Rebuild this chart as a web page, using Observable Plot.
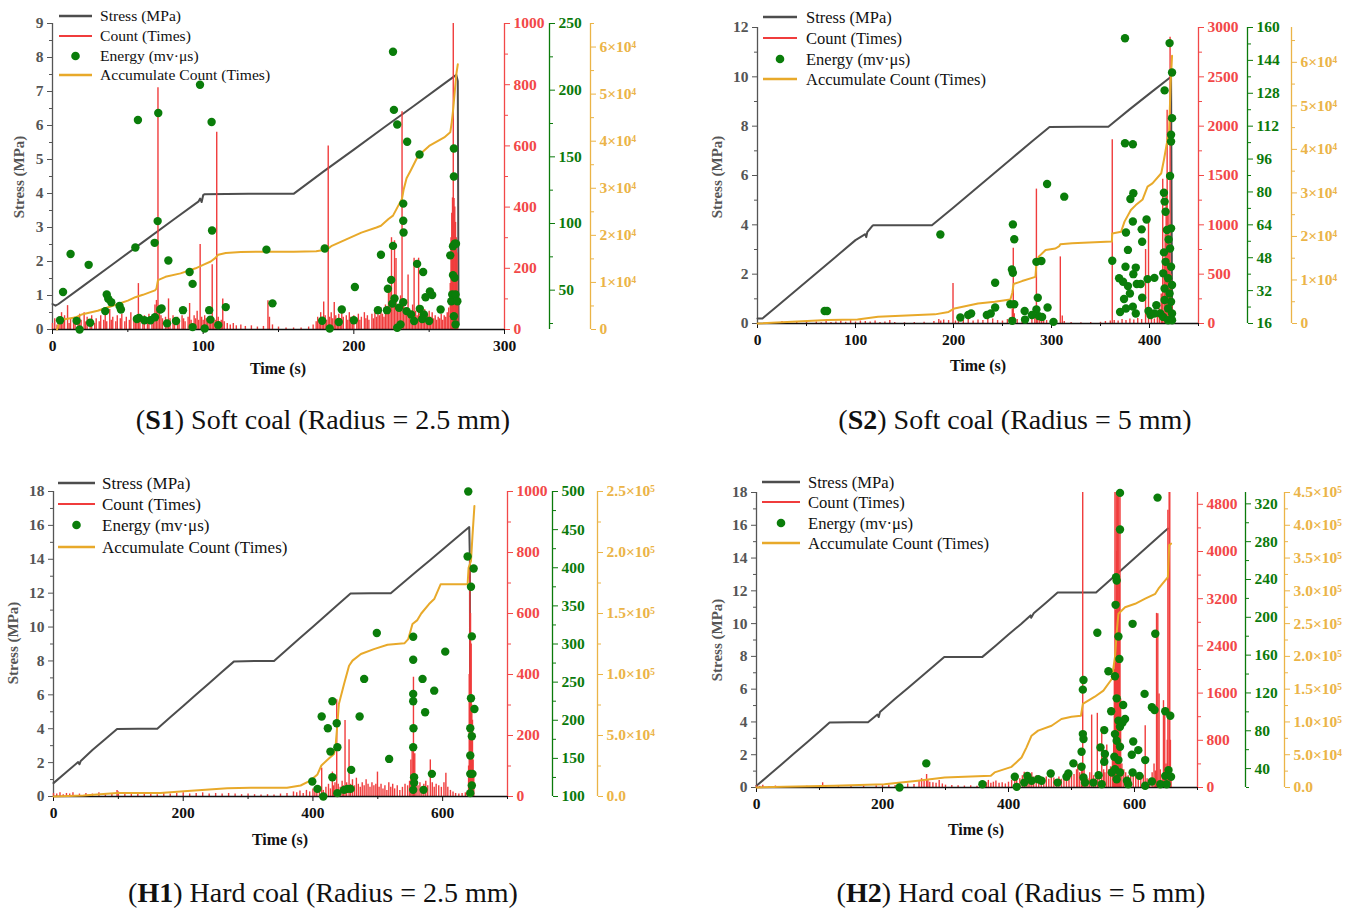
<!DOCTYPE html>
<html><head><meta charset="utf-8">
<script src="https://cdn.jsdelivr.net/npm/d3@7"></script>
<script src="https://cdn.jsdelivr.net/npm/@observablehq/plot@0.6"></script>
<style>
body{margin:0;background:#fff;width:1363px;height:909px;position:relative;overflow:hidden;font-family:"Liberation Serif",serif;}
.layer{position:absolute;}
</style></head><body>
<script>
// ---------------- DATA ----------------
const legendLabels = ["Stress (MPa)", "Count (Times)", "Energy (mv·μs)", "Accumulate Count (Times)"];
const captionBold = ["S1", "S2", "H1", "H2"];
const captionRest = [" Soft coal (Radius = 2.5 mm)", " Soft coal (Radius = 5 mm)", " Hard coal (Radius = 2.5 mm)", " Hard coal (Radius = 5 mm)"];

// S1
const s1Stress = [[0,0.75],[2,0.7],[4,0.75],[20,1.27],[40,1.92],[60,2.57],[80,3.22],[97,3.77],[98,3.85],[99,3.75],[100,3.95],[101,3.98],[130,3.99],[160,3.99],[180,4.65],[200,5.29],[220,5.94],[240,6.58],[260,7.23],[268,7.49],[269,7.3],[269.5,0.15]];
const s1Count = [[0,20],[1.5,35],[3,15],[4,40],[5,25],[6,55],[7,30],[8,45],[10,78],[11,20],[12,35],[14,25],[15,40],[17,20],[18,50],[19,30],[21,55],[22,25],[23,40],[25,30],[26,45],[28,20],[29,35],[31,25],[32,45],[34,30],[35,50],[36,25],[38,65],[39,30],[40,40],[42,25],[43,45],[45,35],[46,50],[48,25],[49,40],[51,30],[52,55],[54,35],[55,45],[56,30],[57,150],[58,40],[60,30],[61,45],[63,35],[64,50],[66,30],[67,40],[68,80],[69,95],[70,790],[71,60],[72,45],[73,35],[75,40],[76,30],[77,100],[78,35],[80,45],[81,25],[83,40],[84,30],[86,45],[87,35],[88,25],[90,40],[91,85],[92,30],[94,45],[95,35],[96,60],[97,30],[98,278],[99,40],[100,30],[101,45],[102,35],[103,25],[104,40],[105,30],[106,212],[107,35],[108,30],[109,645],[110,40],[111,25],[112,30],[113,100],[114,25],[116,20],[118,15],[120,20],[122,12],[125,15],[128,10],[132,12],[136,8],[140,10],[143,94],[144,40],[146,15],[150,8],[155,5],[160,5],[165,5],[170,8],[173,15],[175,25],[176,40],[177,30],[178,55],[179,35],[180,90],[181,45],[182,30],[183,600],[184,40],[185,55],[186,35],[187,88],[188,45],[189,30],[190,50],[191,35],[192,60],[193,40],[195,45],[196,30],[197,55],[198,40],[199,30],[200,45],[202,35],[203,50],[204,30],[205,40],[207,55],[208,35],[209,45],[210,30],[212,50],[213,35],[214,60],[215,40],[216,55],[217,45],[218,70],[219,50],[220,40],[221,80],[222,60],[223,120],[224,122],[225,300],[226,90],[227,290],[228,232],[229,70],[230,60],[231,110],[232,712],[233,90],[234,70],[235,55],[236,178],[237,60],[238,50],[239,80],[240,233],[241,60],[242,45],[243,233],[244,70],[245,55],[246,40],[247,65],[248,50],[249,45],[250,60],[251,40],[252,55],[253,35],[254,45],[255,30],[256,40],[257,35],[258,50],[259,30],[260,45],[261,40],[262,55],[263,70],[264,150],[264.5,300],[265,380],[265.5,430],[266,1000],[266.5,428],[267,400],[267.5,350],[268,300],[268.5,250],[269,120]];
const s1Energy = [[7,48.6],[12,77.1],[24,69],[5,27.4],[16,27],[25,25.6],[18,20.5],[35,34.3],[36,46.8],[37,43.5],[39,40.9],[44.5,38.1],[45.4,35.5],[55,82],[56.7,177.6],[56,28.4],[57.4,29.2],[61,27.4],[65,27.4],[67.8,85.5],[69.8,101.8],[70.2,182.9],[68,29.7],[71.5,35.5],[72.4,36.3],[76.9,72.3],[76,25.1],[82,26.9],[86.6,35],[91,63.6],[93,54.7],[93,22.3],[97.9,204.1],[101,21.3],[104,35],[104.8,27.9],[105.6,176.1],[105.9,94.7],[110,23.8],[115,37.3],[142,80.4],[146,40.1],[180.7,81.2],[179,27.1],[184,21.3],[190,26.1],[192,35.5],[200.7,52.4],[200,27.4],[216,35],[218,76.6],[222.6,51.1],[224.8,57.7],[226,83.2],[226,228.8],[226.6,185.2],[227,43.7],[228.8,174.3],[222,35],[225.5,39.9],[230,36.8],[232.8,114.9],[232.8,102.1],[233,93.2],[232.8,40.9],[235.4,161.3],[235,34.3],[238,31.7],[242,69.7],[243.6,151.8],[243.8,36],[246,63.6],[246.5,31.7],[247.6,44.7],[250.5,49.1],[252,46.3],[245.4,28.4],[250,26.9],[257.6,35.5],[264,76.1],[265.8,83],[266.4,156.2],[266.4,135.3],[266.9,84.8],[267.8,84.8],[265.8,61.3],[266.9,59.3],[264.7,41.7],[265.3,46.8],[267.5,46.8],[268.7,41.7],[266.4,30.4],[267.5,24.3],[228.8,21.8],[231,24.3],[240,26.9]];
const s1Acc = [[3,0],[5,1806],[8,2167],[15,2528],[20,3250],[30,3972],[40,5056],[50,6139],[55,6861],[60,7367],[68,8306],[69,8667],[70,10472],[75,11194],[85,11917],[95,13000],[100,13722],[105,14444],[108,15167],[110,15889],[115,16250],[125,16467],[140,16539],[160,16539],[175,16611],[182,16972],[185,17694],[195,19139],[205,20583],[215,21667],[218,22028],[223,23472],[226,24194],[229,26000],[232,27806],[233,29611],[235,32139],[238,33944],[242,36472],[245,37556],[250,39000],[260,40806],[264,41889],[265,44056],[266,46944],[267,50556],[268,54167],[269,56333]];

// S2
const s2Stress = [[0,0.2],[5,0.2],[20,0.7],[40,1.37],[60,2.04],[80,2.71],[100,3.38],[110,3.62],[111,3.5],[112,3.7],[117,3.95],[118,3.98],[150,3.98],[178,3.98],[200,4.7],[220,5.37],[240,6.04],[260,6.71],[280,7.38],[298,7.97],[330,7.98],[358,7.98],[380,8.69],[400,9.32],[422,10.0],[423,0.2]];
const s2Count = [[20,10],[25,20],[30,8],[40,12],[50,10],[60,15],[65,8],[70,20],[75,10],[80,15],[85,25],[90,12],[95,30],[100,15],[105,25],[110,20],[115,15],[120,25],[125,10],[130,15],[135,30],[140,10],[150,8],[160,10],[170,12],[180,20],[185,40],[187,25],[190,35],[195,30],[199.5,405],[202,25],[205,35],[210,30],[215,40],[220,25],[225,35],[230,30],[235,40],[240,45],[245,30],[250,25],[255,40],[258,60],[260,150],[261,762],[262,100],[265,40],[270,30],[275,25],[280,50],[283,100],[284.6,1362],[286,80],[288,45],[290,35],[292,25],[295,30],[300,20],[305,30],[309,675],[311,75],[313,20],[320,10],[330,8],[340,10],[350,12],[355,20],[360,25],[362,1862],[364,30],[368,25],[372,40],[376,30],[380,45],[384,35],[388,50],[392,40],[396,750],[399,1025],[402,60],[405,45],[408,80],[410,150],[412,300],[413.5,1462],[415,600],[416,900],[417,1300],[418,2162],[419,1100],[420,800],[421,2900],[422,500],[423,200]];
const s2Energy = [[68.5,22.1],[71,22.1],[186.6,59.3],[207,18.9],[215,20.1],[218,20.9],[234,20.1],[238,20.9],[242.5,35.8],[242.5,23.8],[258,25.4],[259.6,42.3],[260.6,40.7],[260.6,64.2],[262,57],[262,25.4],[260,17.3],[272.6,22.1],[273,17.9],[284.6,46],[286,28.5],[289.7,46.4],[284.6,22.8],[287,19.6],[290.4,19.2],[280,20.1],[295.5,83.9],[296,23.8],[302,16.8],[313,77.7],[362,46.5],[375,154.8],[375,103.7],[383,103.2],[376,60.3],[380.5,76.6],[383.5,79.4],[383,65.6],[397,66.6],[392,61.8],[392.5,55.8],[378,51.8],[375.5,43.6],[383.5,40],[386,43.2],[369,38],[373,36.3],[378,34.2],[387,35.2],[391,35.2],[392.5,28.5],[398,37.6],[405,38.2],[374,27.9],[380,30.6],[370,21.6],[376,23.3],[383,24.2],[386,20.9],[399,22.1],[407,24.9],[401,20.1],[411,20.9],[415.4,129.4],[420.5,152.4],[423,138.1],[423,115.9],[422,107.8],[422,104.5],[421,87.8],[414.7,79.6],[415.4,75.3],[416.4,70.4],[414.7,50.6],[417.8,61.5],[422,62.3],[419.5,56.9],[421,52.5],[416.4,46],[422,43.6],[414,40.4],[419,38],[423,34.7],[415.4,33],[420.5,30.6],[422,26.6],[415.4,27.4],[419,23.3],[423,20.9],[414,19.2],[419,17.6],[405,20.9],[423,17.6]];
const s2Acc = [[0,0],[71,793],[102,907],[123,1530],[181,2097],[195,2663],[201,3457],[225,4590],[242,4987],[258,5497],[260,7027],[261.3,9067],[270,9747],[283.6,10710],[284.6,13827],[287,15357],[294,16887],[304,17227],[308,17793],[309,18190],[321,18417],[361.6,18814],[362,20684],[371,21081],[374.5,23404],[381,26068],[386,27202],[393,28504],[398,31451],[403,32188],[412,34511],[414.7,37571],[418,41764],[420,44088],[421.6,55195],[423,61486]];

// H1
const h1Stress = [[0,0.79],[20,1.44],[38,2.03],[40,1.9],[42,2.1],[60,2.75],[80,3.4],[98,3.99],[130,4.0],[160,4.0],[180,4.67],[200,5.34],[220,6.02],[240,6.69],[260,7.36],[278,7.96],[310,8.0],[340,8.0],[360,8.67],[380,9.35],[400,10.02],[420,10.7],[440,11.37],[458,11.98],[490,12.0],[520,12.0],[540,12.64],[560,13.29],[580,13.93],[600,14.58],[620,15.22],[641,15.9],[642,14.0],[642.5,0.2]];
const h1Count = [[0,10],[5,8],[10,12],[15,6],[20,10],[25,8],[30,12],[40,8],[50,10],[60,8],[70,12],[80,6],[90,10],[98,20],[100,15],[110,8],[120,10],[130,8],[140,10],[150,8],[160,6],[170,10],[180,8],[190,10],[200,12],[210,8],[220,10],[230,12],[240,8],[250,10],[260,8],[270,10],[280,8],[290,6],[300,8],[310,6],[320,5],[330,6],[340,5],[350,8],[360,10],[370,15],[375,12],[380,18],[385,10],[390,20],[395,15],[400,25],[403,20],[406,30],[410,25],[413.5,93],[416,20],[420,30],[424,40],[427,25],[430,80],[432,35],[434,45],[436.7,317],[439,40],[442,30],[445,50],[447,35],[449.5,249],[452,45],[455.7,186],[458,40],[461,55],[464,35],[467,60],[470,40],[473,30],[476,45],[479,35],[482,55],[485,40],[488,30],[491,45],[494,35],[497,40],[499.5,80],[502,30],[505,40],[508,25],[511,35],[514,20],[517,45],[520,30],[523,40],[526,25],[530,35],[534,20],[538,30],[542,40],[546,35],[549,50],[551,120],[553,160],[555,391],[557,140],[559,60],[562,35],[565,45],[568,30],[571,40],[574,50],[577,35],[581,120],[584,45],[587,30],[590,40],[594,35],[598,30],[602,45],[605,76],[608,30],[612,20],[616,15],[620,10],[625,8],[630,10],[635,12],[638,15],[640,100],[641,400],[642,795],[643,600],[644,500],[645,300],[646,250],[647,120],[648,80]];
const h1Energy = [[399,119.6],[407,110],[413.5,204.9],[416,100],[423,189.6],[427,158.9],[430,224.9],[430,125.3],[436.7,196],[437.7,164.7],[437.7,104.4],[448,108.7],[453,110],[458,110],[459,134.9],[472,204.9],[479,254.2],[498.5,314.4],[517.5,149.3],[554.6,309.6],[554.6,279.4],[554.6,234.4],[554.6,224.9],[555,189.6],[554.6,164.7],[556,125.3],[556,117.9],[554.6,108.7],[569,254.2],[573,210.5],[570.5,108.7],[587,238.8],[583.4,129.7],[604,290],[639.5,500],[638.5,414.8],[643.7,375],[647.8,399],[645,310],[643.7,228.9],[649,214.8],[642.6,189.6],[645,179],[642.6,153.8],[642.6,129.7],[646,129.7],[645,114.4],[642.6,104.4]];
const h1Acc = [[0,0],[46,833],[98,2778],[165,2778],[201,4306],[268,6806],[304,7083],[360,7083],[381,9028],[396,13056],[407,18056],[413,25417],[425,31389],[432.5,34861],[435,41667],[437.7,59444],[440,75833],[448,92222],[455.7,107222],[461,111389],[474,116806],[494,120833],[515,124444],[541,125556],[547,129028],[553.5,141389],[561,144583],[567,150000],[579,157778],[587,161806],[597,174028],[633,174028],[638.5,174028],[640,187500],[643.7,193056],[646,213611],[649,238194]];

// H2
const h2Stress = [[0,0.1],[20,0.76],[40,1.42],[60,2.09],[80,2.75],[100,3.41],[116,3.97],[150,3.98],[177,3.98],[192,4.45],[194,4.3],[196,4.6],[220,5.41],[240,6.06],[260,6.71],[280,7.37],[298,7.97],[330,7.97],[358.6,7.97],[380,8.67],[400,9.33],[420,9.98],[435,10.5],[436,10.35],[440,10.63],[460,11.29],[478,11.9],[510,11.9],[539,11.9],[560,12.62],[580,13.3],[600,13.99],[620,14.67],[640,15.36],[653,15.8]];
const h2Count = [[0,30],[5,20],[10,40],[20,15],[30,25],[40,10],[60,15],[80,20],[100,30],[105,80],[110,20],[130,15],[150,20],[170,25],[190,30],[200,50],[210,40],[220,35],[230,45],[240,60],[250,50],[258,120],[262,150],[266,100],[270,220],[272,130],[275,90],[280,80],[285,70],[290,120],[295,60],[300,40],[310,35],[320,30],[330,25],[340,30],[350,20],[360,40],[365,80],[368,120],[372,70],[376,90],[380,110],[385,70],[390,80],[395,60],[400,90],[405,120],[410,140],[413,180],[418,150],[422,200],[425,260],[428,180],[431,220],[434,150],[437,250],[440,180],[444,200],[448,140],[452,160],[456,120],[460,180],[464,140],[468,200],[472,160],[476,120],[480,180],[484,140],[488,200],[492,120],[496,160],[500,200],[504,220],[508,300],[510,390],[513,250],[516,400],[517.8,5000],[520,300],[523,200],[526,150],[529,250],[532,1228],[535,200],[538,150],[541,1257],[544,220],[548,1020],[551,300],[553,250],[556,720],[559,300],[562,350],[565,500],[567,900],[568,2000],[569,5000],[570,3000],[571,5000],[572,4000],[573,5000],[574,2500],[575,5000],[576,3500],[577,5000],[578,1500],[580,400],[583,300],[586,250],[590,200],[594,300],[598,250],[602,200],[606,150],[610,250],[614,200],[617,1048],[620,150],[624,100],[628,250],[631,400],[633,280],[635,2951],[637,2944],[639,1586],[641,300],[644,200],[646,1472],[648,1340],[650,400],[652,800],[653,4700],[655,5000],[656,5000],[657,800],[658,200]];
const h2Energy = [[269.5,45.5],[227,20],[358.6,23.5],[410,31.3],[413,20.7],[425,25.2],[430,32.3],[436.6,27.1],[447,28.8],[452.5,27.1],[467,34.8],[478,25.2],[492,31.3],[495,34.8],[503,45.5],[519,133.7],[518,123.5],[518,76.5],[519,71.3],[516,57.8],[516,41.9],[519,30.6],[521.5,25.2],[541,183.6],[552,80.7],[546,62.4],[553,55.4],[552,47.2],[543,33],[558.6,142.9],[563,100.6],[569,137.6],[570,213.2],[570.7,242.5],[571.7,239],[571.7,114.3],[574.5,179.7],[576,156],[577,331.6],[577,292.8],[574.5,90.7],[569,76.5],[577,84.3],[571.7,69.4],[577,63.1],[568,52.6],[574.5,49],[569,39.4],[577,35.9],[571.7,28.8],[564,35.9],[582,107.2],[585,92.4],[581,88.8],[588,27.1],[597,193.1],[598,68.7],[595.7,54.7],[597,35.9],[606,59.5],[607.8,32.3],[616,119],[617,49],[617,21.8],[627.6,26.4],[627.6,104.8],[631.8,102],[633,182.6],[636.6,326.6],[648.8,100.6],[656.8,95.9],[654,38.4],[648.8,32.3],[658,31.3],[641,23.5],[651,23.5],[534.7,25.2],[548,23.5],[590,23.5]];
const h2Acc = [[0,0],[44,1000],[123.6,2500],[203,5000],[256,10250],[298.7,15250],[371.9,17750],[378,23000],[404.8,31500],[420.7,45750],[428.6,61250],[436.6,79000],[447,86750],[468.4,94250],[484,104500],[500,108000],[515,109500],[518,127500],[537,138500],[550.6,147750],[564,165500],[569,198750],[572,239500],[574.5,265000],[585,275000],[601,280250],[617,288000],[633,295500],[638,303250],[653,321000],[655,369500],[658,372000]];

// Tick values and labels
const s1XTicks=[0,100,200,300], s1XMinor=[50,150,250];
const s1STicks=[0,1,2,3,4,5,6,7,8,9], s1SMinor=[0.5,1.5,2.5,3.5,4.5,5.5,6.5,7.5,8.5];
const s1CTicks=[0,200,400,600,800,1000], s1CMinor=[100,300,500,700,900];
const s1ETicks=[50,100,150,200,250], s1EMinor=[25,75,125,175,225];
const s1ATicks=[0,10000,20000,30000,40000,50000,60000], s1AMinor=[5000,15000,25000,35000,45000,55000,65000];
const s2XTicks=[0,100,200,300,400], s2XMinor=[50,150,250,350,450];
const s2STicks=[0,2,4,6,8,10,12], s2SMinor=[1,3,5,7,9,11];
const s2CTicks=[0,500,1000,1500,2000,2500,3000], s2CMinor=[250,750,1250,1750,2250,2750];
const s2ETicks=[16,32,48,64,80,96,112,128,144,160], s2EMinor=[24,40,56,72,88,104,120,136,152];
const s2ATicks=[0,10000,20000,30000,40000,50000,60000], s2AMinor=[5000,15000,25000,35000,45000,55000,65000];
const hXTicks=[0,200,400,600], hXMinor=[100,300,500,700];
const hSTicks=[0,2,4,6,8,10,12,14,16,18], hSMinor=[1,3,5,7,9,11,13,15,17];
const h1CTicks=[0,200,400,600,800,1000], h1CMinor=[100,300,500,700,900];
const h1ETicks=[100,150,200,250,300,350,400,450,500], h1EMinor=[125,175,225,275,325,375,425,475];
const h1ATicks=[0,50000,100000,150000,200000,250000], h1AMinor=[25000,75000,125000,175000,225000];
const h2CTicks=[0,800,1600,2400,3200,4000,4800], h2CMinor=[400,1200,2000,2800,3600,4400];
const h2ETicks=[40,80,120,160,200,240,280,320], h2EMinor=[20,60,100,140,180,220,260,300];
const h2ATicks=[0,50000,100000,150000,200000,250000,300000,350000,400000,450000], h2AMinor=[25000,75000,125000,175000,225000,275000,325000,375000,425000];
const sAccLabels=["0","1×10⁴","2×10⁴","3×10⁴","4×10⁴","5×10⁴","6×10⁴"];
const h1AccLabels=["0.0","5.0×10⁴","1.0×10⁵","1.5×10⁵","2.0×10⁵","2.5×10⁵"];
const h2AccLabels=["0.0","5.0×10⁴","1.0×10⁵","1.5×10⁵","2.0×10⁵","2.5×10⁵","3.0×10⁵","3.5×10⁵","4.0×10⁵","4.5×10⁵"];

// ---------------- STYLE / LAYOUT ----------------
const RED="#f03c3c", GREEN="#0a7d0a", ORANGE="#e8a92a", GREY="#4d4d4d";
const AXRED="#f24848", AXGREEN="#0b7a0b", AXORANGE="#ebb447", AXGREY="#555555";
const FONT="'Liberation Serif', 'Times New Roman', serif";

const panels = [
  {left:0, top:0, w:680, h:400, x0:52, x1:504, y0:23, y1:329, xDomain:[0,300], xTicks:s1XTicks, xMinor:s1XMinor,
   sDomain:[0,9], sTicks:s1STicks, sMinor:s1SMinor, cDomain:[0,1000], cTicks:s1CTicks, cMinor:s1CMinor,
   eDomain:[20.5,250], eTicks:s1ETicks, eMinor:s1EMinor, aDomain:[0,65000], aTicks:s1ATicks, aMinor:s1AMinor, aLabels:sAccLabels,
   dxG:45, dxO:86, stress:s1Stress, count:s1Count, energy:s1Energy, acc:s1Acc,
   leg:{lx0:59, lx1:92, tx:100, rows:[16,36,56,75], fs:15.6}, xt:[278,368], yt:[19,177], cap:[323,429]},
  {left:690, top:0, w:673, h:400, x0:757, x1:1198, y0:27, y1:323, xDomain:[0,450], xTicks:s2XTicks, xMinor:s2XMinor,
   sDomain:[0,12], sTicks:s2STicks, sMinor:s2SMinor, cDomain:[0,3000], cTicks:s2CTicks, cMinor:s2CMinor,
   eDomain:[16,160], eTicks:s2ETicks, eMinor:s2EMinor, aDomain:[0,68000], aTicks:s2ATicks, aMinor:s2AMinor, aLabels:sAccLabels,
   dxG:49, dxO:93, stress:s2Stress, count:s2Count, energy:s2Energy, acc:s2Acc,
   leg:{lx0:763, lx1:797, tx:806, rows:[17,38,59,79], fs:16.5}, xt:[978,365], yt:[717,177], cap:[1015,429]},
  {left:0, top:460, w:680, h:420, x0:53, x1:507, y0:491, y1:796, xDomain:[0,700], xTicks:hXTicks, xMinor:hXMinor,
   sDomain:[0,18], sTicks:hSTicks, sMinor:hSMinor, cDomain:[0,1000], cTicks:h1CTicks, cMinor:h1CMinor,
   eDomain:[100,500], eTicks:h1ETicks, eMinor:h1EMinor, aDomain:[0,250000], aTicks:h1ATicks, aMinor:h1AMinor, aLabels:h1AccLabels,
   dxG:45, dxO:90, stress:h1Stress, count:h1Count, energy:h1Energy, acc:h1Acc,
   leg:{lx0:58, lx1:95, tx:102, rows:[483,504,525,547], fs:17}, xt:[280,839], yt:[13,643], cap:[323,902]},
  {left:690, top:460, w:673, h:420, x0:756, x1:1197, y0:492, y1:787, xDomain:[0,700], xTicks:hXTicks, xMinor:hXMinor,
   sDomain:[0,18], sTicks:hSTicks, sMinor:hSMinor, cDomain:[0,5000], cTicks:h2CTicks, cMinor:h2CMinor,
   eDomain:[20,332], eTicks:h2ETicks, eMinor:h2EMinor, aDomain:[0,450000], aTicks:h2ATicks, aMinor:h2AMinor, aLabels:h2AccLabels,
   dxG:48, dxO:87, stress:h2Stress, count:h2Count, energy:h2Energy, acc:h2Acc,
   leg:{lx0:762, lx1:800, tx:808, rows:[482,502,523,543], fs:16.6}, xt:[976,829], yt:[717,640], cap:[1021,902]}
];

function layer(p, yDomain, marks) {
  const svg = Plot.plot({
    width: p.w, height: p.h,
    marginLeft: p.x0 - p.left, marginRight: p.left + p.w - p.x1,
    marginTop: p.y0 - p.top, marginBottom: p.top + p.h - p.y1,
    x: {domain: p.xDomain, axis: null},
    y: {domain: yDomain, axis: null},
    style: {fontFamily: FONT, fontSize: "15.5px", background: "transparent", overflow: "visible"},
    marks
  });
  svg.classList.add("layer");
  svg.style.left = p.left + "px";
  svg.style.top = p.top + "px";
  document.body.appendChild(svg);
}

function rightAxis(p, ticks, minor, color, dx, fmt) {
  return [
    Plot.ruleX([p.xDomain[1]], {dx, stroke: color, strokeWidth: 1.3}),
    Plot.axisY(ticks, {anchor: "right", dx, tickSize: 5, tickPadding: 4, stroke: color, fill: color, fontWeight: "bold", label: null, tickFormat: fmt}),
    Plot.axisY(minor, {anchor: "right", dx, tickSize: 3, stroke: color, fill: "none", label: null})
  ];
}

panels.forEach(p => {
  // stress layer with main axes
  layer(p, p.sDomain, [
    Plot.axisX(p.xTicks, {tickSize: 5, tickPadding: 5, stroke: "#111", fill: "#111", fontWeight: "bold", label: null}),
    Plot.axisX(p.xMinor, {tickSize: 3, stroke: "#111", fill: "none", label: null}),
    Plot.axisY(p.sTicks, {anchor: "left", tickSize: 5, tickPadding: 4, stroke: AXGREY, fill: AXGREY, fontWeight: "bold", label: null}),
    Plot.axisY(p.sMinor, {anchor: "left", tickSize: 3, stroke: AXGREY, fill: "none", label: null}),
    Plot.ruleX([p.xDomain[0]], {stroke: AXGREY, strokeWidth: 1.3}),
    Plot.line(p.stress, {x: d => d[0], y: d => d[1], stroke: GREY, strokeWidth: 2})
  ]);
  // count layer
  layer(p, p.cDomain, [
    Plot.ruleX(p.count, {x: d => d[0], y1: 0, y2: d => d[1], stroke: RED, strokeWidth: 1.4}),
    ...rightAxis(p, p.cTicks, p.cMinor, AXRED, 0, d => String(d)),
    Plot.ruleY([p.cDomain[0]], {stroke: "#111", strokeWidth: 1.3})
  ]);
  // accumulate layer
  const accMap = new Map(p.aTicks.map((v, i) => [v, p.aLabels[i]]));
  layer(p, p.aDomain, [
    Plot.line(p.acc, {x: d => d[0], y: d => d[1], stroke: ORANGE, strokeWidth: 2}),
    ...rightAxis(p, p.aTicks, p.aMinor, AXORANGE, p.dxO, d => accMap.get(d))
  ]);
  // energy layer
  layer(p, p.eDomain, [
    Plot.dot(p.energy, {x: d => d[0], y: d => d[1], r: 4.2, fill: GREEN, stroke: "none"}),
    ...rightAxis(p, p.eTicks, p.eMinor, AXGREEN, p.dxG, d => String(d))
  ]);
});

// overlay: legends, axis titles, captions
const ov = d3.select("body").append("svg").attr("class", "layer")
  .attr("width", 1363).attr("height", 909).style("left", "0px").style("top", "0px")
  .style("font-family", FONT);
panels.forEach((p, k) => {
  const L = p.leg;
  const g = ov.append("g");
  const cols = [GREY, RED, GREEN, ORANGE];
  L.rows.forEach((y, i) => {
    if (i === 2) {
      g.append("circle").attr("cx", (L.lx0 + L.lx1) / 2).attr("cy", y).attr("r", 4.3).attr("fill", GREEN);
    } else {
      g.append("line").attr("x1", L.lx0).attr("x2", L.lx1).attr("y1", y).attr("y2", y)
        .attr("stroke", cols[i]).attr("stroke-width", i === 1 ? 1.8 : 2.4);
    }
    g.append("text").attr("x", L.tx).attr("y", y).attr("dy", "0.35em").attr("font-size", L.fs)
      .attr("fill", "#111").text(legendLabels[i]);
  });
  ov.append("text").attr("x", p.xt[0]).attr("y", p.xt[1]).attr("dy", "0.35em").attr("text-anchor", "middle")
    .attr("font-size", 16).attr("font-weight", "bold").attr("fill", "#111").text("Time (s)");
  ov.append("text").attr("transform", `translate(${p.yt[0]},${p.yt[1]}) rotate(-90)`).attr("dy", "0.35em")
    .attr("text-anchor", "middle").attr("font-size", 15).attr("font-weight", "bold").attr("fill", AXGREY).text("Stress (MPa)");
  const c = ov.append("text").attr("x", p.cap[0]).attr("y", p.cap[1]).attr("text-anchor", "middle")
    .attr("font-size", 28).attr("fill", "#111");
  c.append("tspan").text("(");
  c.append("tspan").attr("font-weight", "bold").text(captionBold[k]);
  c.append("tspan").text(")" + captionRest[k]);
});
</script>
</body></html>
